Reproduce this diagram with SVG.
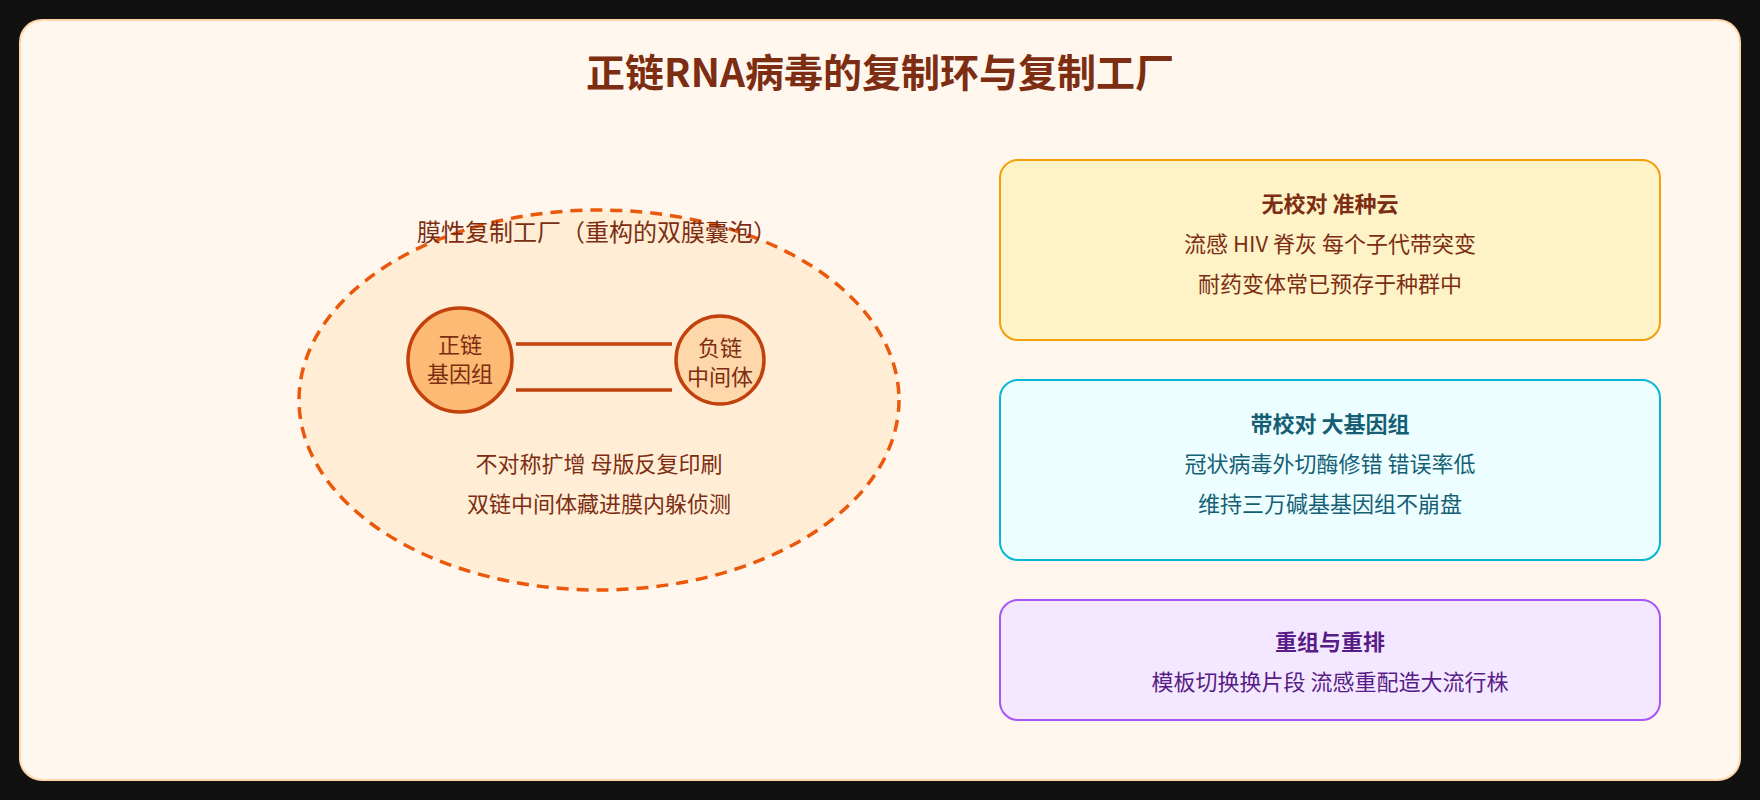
<svg xmlns="http://www.w3.org/2000/svg" width="1760" height="800" viewBox="0 0 1760 800">
<style>
text{font-family:"Noto Sans CJK SC","Noto Sans",sans-serif;text-anchor:middle}
.title{font-size:39px;font-weight:700;fill:#7C2D12}
.lbl{font-size:24px;fill:#7C2D12}
.n{font-size:22px;fill:#7C2D12}
.bt{font-size:22px;font-weight:700}
.bb{font-size:22px}
.strand{stroke:#C2410C;stroke-width:3.5;fill:none}
</style>
<rect x="0" y="0" width="1760" height="800" fill="#111111"/>
<rect x="20" y="20" width="1720" height="760" rx="22" fill="#FFF7ED" stroke="#FED7AA" stroke-width="2"/>
<text class="title" x="880" y="87">正链RNA病毒的复制环与复制工厂</text>
<g id="factory">
<ellipse cx="599" cy="400" rx="300" ry="190" fill="#FFEDD5" stroke="#EA580C" stroke-width="3.5" stroke-dasharray="12 8"/>
<text class="lbl" x="597" y="241">膜性复制工厂（重构的双膜囊泡）</text>
<text class="n" x="599" y="472">不对称扩增 母版反复印刷</text>
<text class="n" x="599" y="512">双链中间体藏进膜内躲侦测</text>
</g>
<g id="connectors">
<line class="strand" x1="516" y1="344" x2="672" y2="344"/>
<line class="strand" x1="516" y1="390" x2="672" y2="390"/>
</g>
<g id="plus-genome">
<circle cx="460" cy="360" r="52" fill="#FDBA74" stroke="#C2410C" stroke-width="3.5"/>
<text class="n" x="460" y="353">正链</text>
<text class="n" x="460" y="382">基因组</text>
</g>
<g id="minus-intermediate">
<circle cx="720" cy="360" r="44" fill="#FED7AA" stroke="#C2410C" stroke-width="3.5"/>
<text class="n" x="720" y="356">负链</text>
<text class="n" x="720" y="385">中间体</text>
</g>
<g id="no-proofreading">
<rect x="1000" y="160" width="660" height="180" rx="18" fill="#FEF3C7" stroke="#F59E0B" stroke-width="2"/>
<text class="bt" x="1330" y="212" fill="#7C2D12">无校对 准种云</text>
<text class="bb" x="1330" y="252" fill="#7C2D12">流感 HIV 脊灰 每个子代带突变</text>
<text class="bb" x="1330" y="292" fill="#7C2D12">耐药变体常已预存于种群中</text>
</g>
<g id="proofreading">
<rect x="1000" y="380" width="660" height="180" rx="18" fill="#ECFEFF" stroke="#06B6D4" stroke-width="2"/>
<text class="bt" x="1330" y="432" fill="#155E75">带校对 大基因组</text>
<text class="bb" x="1330" y="472" fill="#155E75">冠状病毒外切酶修错 错误率低</text>
<text class="bb" x="1330" y="512" fill="#155E75">维持三万碱基基因组不崩盘</text>
</g>
<g id="recombination">
<rect x="1000" y="600" width="660" height="120" rx="18" fill="#F3E8FF" stroke="#A855F7" stroke-width="2"/>
<text class="bt" x="1330" y="650" fill="#581C87">重组与重排</text>
<text class="bb" x="1330" y="690" fill="#581C87">模板切换换片段 流感重配造大流行株</text>
</g>
</svg>
